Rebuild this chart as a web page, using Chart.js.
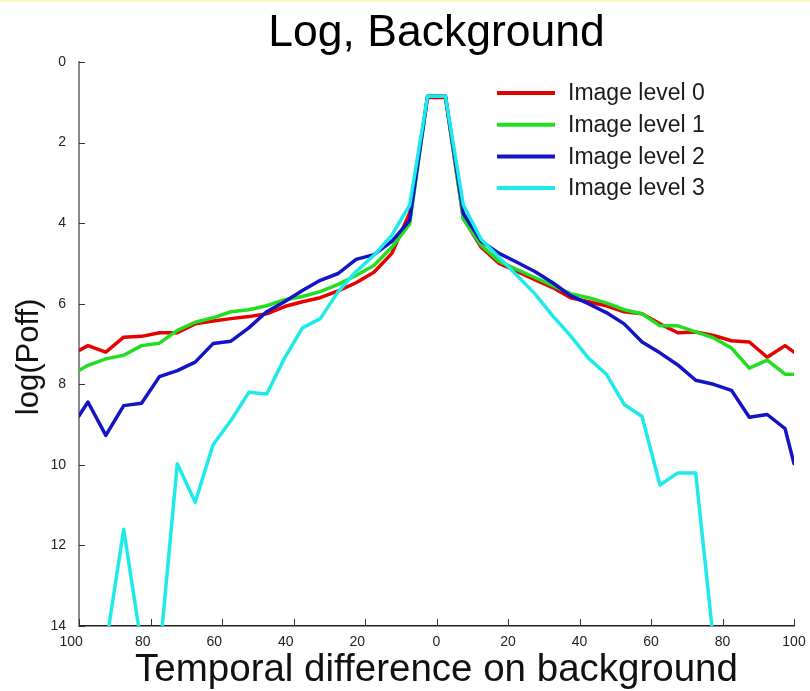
<!DOCTYPE html>
<html>
<head>
<meta charset="utf-8">
<title>Log, Background</title>
<script src="https://cdn.jsdelivr.net/npm/chart.js@4.4.1/dist/chart.umd.min.js"></script>
<style>
  html, body { margin: 0; padding: 0; background: #fff; }
  #wrap { position: relative; width: 810px; height: 691px; }
  #strip { position: absolute; left: 0; top: 0; width: 810px; height: 2px; background: #fbf5c4; }
</style>
</head>
<body>
<div id="wrap">
  <canvas id="logChart" width="810" height="691"></canvas>
  <div id="strip"></div>
</div>
<script>
// temporal difference (x) of each sample
const diffs = [-100, -97.5, -92.5, -87.5, -82.5, -77.5, -72.5, -67.5, -62.5, -57.5, -52.5,
  -47.5, -42.5, -37.5, -32.5, -27.5, -22.5, -17.5, -12.5, -7.5, -2.5,
  2.5, 7.5, 12.5, 17.5, 22.5, 27.5, 32.5, 37.5, 42.5, 47.5,
  52.5, 57.5, 62.5, 67.5, 72.5, 77.5, 82.5, 87.5, 92.5, 97.5, 100];

// log(Poff) per image level
const level0 = [7.16, 7.04, 7.20, 6.83, 6.81, 6.72, 6.72, 6.50, 6.43, 6.37, 6.32,
  6.25, 6.07, 5.95, 5.85, 5.68, 5.48, 5.22, 4.75, 3.75, 0.88,
  0.88, 3.88, 4.60, 5.00, 5.20, 5.40, 5.60, 5.85, 5.95, 6.05,
  6.20, 6.25, 6.50, 6.72, 6.70, 6.79, 6.92, 6.95, 7.33, 7.04, 7.20];
const level1 = [7.66, 7.53, 7.37, 7.28, 7.04, 6.98, 6.66, 6.46, 6.35, 6.20, 6.15,
  6.05, 5.90, 5.82, 5.70, 5.52, 5.30, 5.05, 4.60, 4.02, 0.85,
  0.85, 3.90, 4.55, 4.95, 5.15, 5.35, 5.55, 5.75, 5.85, 5.98,
  6.15, 6.25, 6.55, 6.55, 6.70, 6.85, 7.10, 7.60, 7.40, 7.75, 7.75];
const level2 = [8.78, 8.44, 9.27, 8.53, 8.47, 7.81, 7.66, 7.45, 6.99, 6.93, 6.60,
  6.20, 5.95, 5.67, 5.42, 5.25, 4.90, 4.78, 4.45, 3.93, 0.85,
  0.85, 3.76, 4.45, 4.75, 4.97, 5.20, 5.48, 5.80, 6.00, 6.22,
  6.50, 6.95, 7.22, 7.52, 7.90, 8.00, 8.15, 8.82, 8.75, 9.10, 9.97];
const level3 = [null, null, 14.5, 11.6, 14.5, 14.75, 9.97, 10.93, 9.50, 8.90, 8.20,
  8.24, 7.35, 6.60, 6.37, 5.70, 5.20, 4.80, 4.30, 3.55, 0.85,
  0.85, 3.55, 4.40, 4.85, 5.30, 5.75, 6.30, 6.80, 7.35, 7.75,
  8.50, 8.80, 10.50, 10.20, 10.20, 14.4, null, null, null, null, null];

const seriesNames = ['Image level 0', 'Image level 1', 'Image level 2', 'Image level 3'];
const seriesValues = [level0, level1, level2, level3];
const seriesColors = ['#e60000', '#22de22', '#1414c4', '#1eeaea'];

const FONT = "'Liberation Sans', Arial, Helvetica, sans-serif";

// short inward tick marks on both axes
const innerTicks = {
  id: 'innerTicks',
  afterDraw(chart) {
    const ctx = chart.ctx;
    const xs = chart.scales.x, ys = chart.scales.y;
    const a = chart.chartArea;
    ctx.save();
    ctx.strokeStyle = '#333';
    ctx.lineWidth = 1;
    ctx.beginPath();
    xs.ticks.forEach(t => {
      const px = Math.round(xs.getPixelForValue(t.value)) + 0.5;
      ctx.moveTo(px, a.bottom);
      ctx.lineTo(px, a.bottom - 7);
    });
    ys.ticks.forEach(t => {
      const py = Math.round(ys.getPixelForValue(t.value)) + 0.5;
      ctx.moveTo(a.left, py);
      ctx.lineTo(a.left + 6, py);
    });
    ctx.stroke();
    ctx.restore();
  }
};

// legend drawn inside the plot, top right
const lineLegend = {
  id: 'lineLegend',
  afterDraw(chart) {
    const ctx = chart.ctx;
    ctx.save();
    ctx.font = '23px ' + FONT;
    ctx.textBaseline = 'middle';
    ctx.textAlign = 'left';
    chart.data.datasets.forEach((ds, i) => {
      const y = 93 + i * 31.7;
      ctx.strokeStyle = ds.borderColor;
      ctx.lineWidth = 4;
      ctx.beginPath();
      ctx.moveTo(497, y);
      ctx.lineTo(555, y);
      ctx.stroke();
      ctx.fillStyle = '#1a1a1a';
      ctx.fillText(ds.label, 568, y + 1);
    });
    ctx.restore();
  }
};

const datasets = seriesNames.map((name, i) => ({
  label: name,
  data: diffs.map((d, k) => ({ x: d, y: seriesValues[i][k] })),
  borderColor: seriesColors[i],
  backgroundColor: seriesColors[i],
  borderWidth: 3.5,
  pointRadius: 0,
  tension: 0,
  borderJoinStyle: 'round',
  borderCapStyle: 'round',
  spanGaps: false,
  clip: 0,
  order: 3 - i
}));

const ctx = document.getElementById('logChart').getContext('2d');
const logChart = new Chart(ctx, {
  type: 'line',
  data: { datasets: datasets },
  options: {
    responsive: false,
    animation: false,
    layout: { padding: { left: 0, right: 16, top: 0, bottom: 0 } },
    scales: {
      x: {
        type: 'linear',
        min: -100,
        max: 100,
        grid: { display: false, drawTicks: false },
        border: { display: true, color: '#222', width: 1.5 },
        ticks: {
          stepSize: 20,
          padding: 8,
          color: '#222',
          font: { family: FONT, size: 14 },
          maxRotation: 0,
          callback: function(value) {
            // negative side is labelled by its magnitude
            return value < 0 ? Math.abs(value) + '    ' : String(value);
          }
        },
        title: {
          display: true,
          text: 'Temporal difference on background',
          color: '#111',
          font: { family: FONT, size: 38.5 },
          padding: { top: 0, bottom: -2 }
        },
        afterFit: function(scale) {
          scale.height = 65;
          scale.paddingLeft = 0;
          scale.paddingRight = 0;
        }
      },
      y: {
        type: 'linear',
        reverse: true,
        min: 0,
        max: 14,
        grid: { display: false, drawTicks: false },
        border: { display: true, color: '#8a8a8a', width: 2 },
        ticks: {
          stepSize: 2,
          padding: 13,
          color: '#222',
          font: { family: FONT, size: 14 }
        },
        title: {
          display: true,
          text: 'log(Poff)   ',
          color: '#111',
          font: { family: FONT, size: 31 },
          padding: { top: 11, bottom: 0 }
        },
        afterFit: function(scale) { scale.width = 79; }
      }
    },
    plugins: {
      legend: { display: false },
      tooltip: { enabled: false },
      title: {
        display: true,
        text: 'Log, Background',
        fullSize: false,
        color: '#000',
        font: { family: FONT, size: 44.5, weight: 'normal' },
        padding: { top: 7, bottom: 1.6 }
      }
    }
  },
  plugins: [innerTicks, lineLegend]
});
</script>
</body>
</html>
